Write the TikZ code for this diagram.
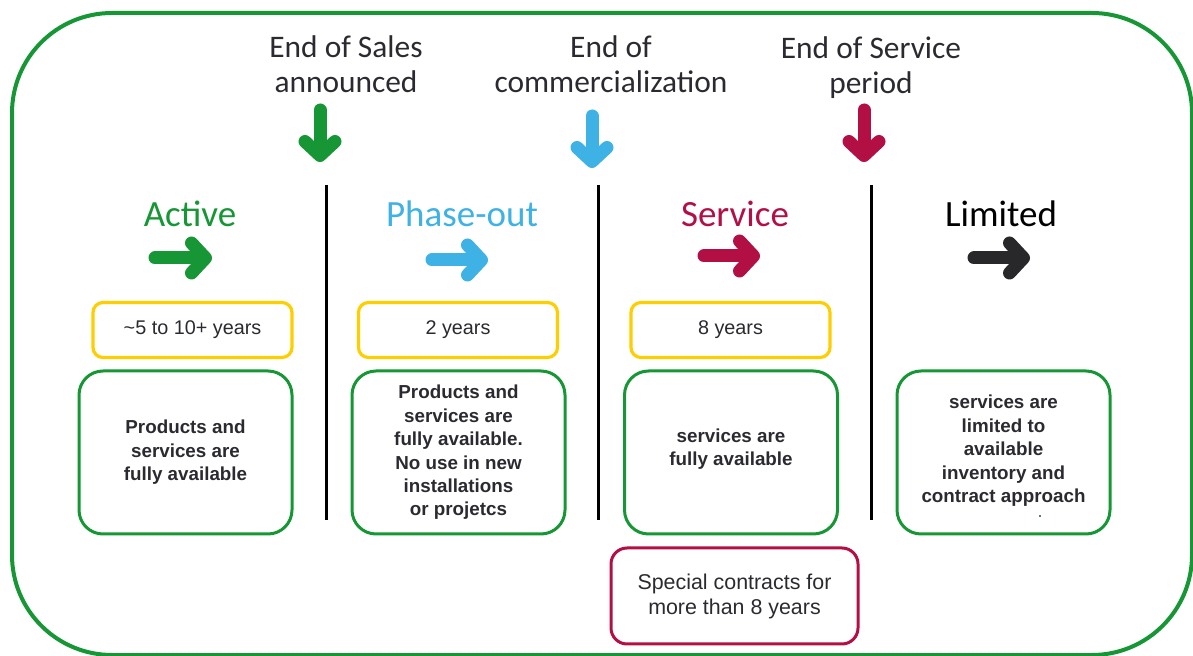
\documentclass[tikz,border=0pt]{standalone}
\usepackage{fontspec}
\setmainfont{Liberation Sans}
\newfontfamily\headfont{Carlito}
\usetikzlibrary{arrows.meta, positioning}
\definecolor{mygreen}{RGB}{22,150,52}
\definecolor{myblue}{RGB}{62,178,228}
\definecolor{myred}{RGB}{178,16,68}
\definecolor{mydark}{RGB}{40,40,42}
\definecolor{myyellow}{RGB}{255,206,0}
\definecolor{mytext}{RGB}{42,42,48}
\tikzset{
  eventlabel/.style={align=center, text=mytext, inner sep=0pt,
    font=\headfont\fontsize{15.7}{17.5}\selectfont},
  phasetitle/.style={inner sep=0pt, font=\headfont\fontsize{18.5}{21}\selectfont},
  bigarrow/.style={line width=6.5pt, line cap=round,
    -{Straight Barb[length=7pt, width=15pt, round]}},
  yearbox/.style={rectangle, draw=myyellow, line width=1.6pt,
    rounded corners=5pt, minimum width=99.5pt, minimum height=27.5pt,
    font=\fontsize{9.9}{12}\selectfont, text=mytext},
  infobox/.style={rectangle, draw=mygreen, line width=1.5pt,
    rounded corners=12pt, minimum width=106.5pt, minimum height=81.5pt,
    align=center, text=mytext, font=\bfseries\fontsize{9.4}{11.7}\selectfont},
  contractbox/.style={rectangle, draw=myred, line width=1.5pt,
    rounded corners=8pt, minimum width=123.5pt, minimum height=48pt,
    align=center, text=mytext, font=\fontsize{10.7}{12.5}\selectfont},
  divider/.style={line width=1.5pt, color=black}
}

\begin{document}
\begin{tikzpicture}[x=0.5pt, y=-0.5pt]
  \useasboundingbox (0,0) rectangle (1193,656);
  % outer frame
  \draw[mygreen, line width=2pt, rounded corners=50pt] (12,13) rectangle (1192,655);

  % -- milestones ------------------------------------------------------
  \node[eventlabel] (eos)  at (346,64)   {End of Sales\\announced};
  \node[eventlabel] (eoc)  at (611,64)   {End of\\commercialization};
  \node[eventlabel] (eosv) at (871,67.5) {End of Service\\period};
  \draw[bigarrow, mygreen] (320,110) -- (320,162);
  \draw[bigarrow, myblue]  (592,116) -- (592,168);
  \draw[bigarrow, myred]   (864,110) -- (864,162);

  % dividers between phases
  \draw[divider] (326,185) -- (326,520);
  \draw[divider] (598,185) -- (598,520);
  \draw[divider] (871,185) -- (871,520);

  % -- phase titles and arrows -----------------------------------------
  \node[phasetitle, text=mygreen]  (active)  at (190,214)  {Active};
  \node[phasetitle, text=myblue]   (phout)   at (462,214)  {Phase-out};
  \node[phasetitle, text=myred]    (service) at (735,214)  {Service};
  \node[phasetitle, text=black]    (limited) at (1001,214) {Limited};
  \draw[bigarrow, mygreen] (155,258) -- (212,258);
  \draw[bigarrow, myblue]  (432,260) -- (488,260);
  \draw[bigarrow, myred]   (704,256) -- (760,256);
  \draw[bigarrow, mydark]  (974,258) -- (1030,258);

  % -- durations -------------------------------------------------------
  \node[yearbox] (yactive)  at (192.5,330) {\textasciitilde5 to 10+ years};
  \node[yearbox] (yphout)   at (458,330)   {2 years};
  \node[yearbox] (yservice) at (730.5,330) {8 years};

  % -- availability ----------------------------------------------------
  \node[infobox] (iactive)  at (185.5,452.5)
    {Products and\\services are\\fully available};
  \node[infobox] (iphout)   at (458.5,452.5)
    {Products and\\services are\\fully available.\\No use in new\\installations\\or projetcs};
  \node[infobox] (iservice) at (731,452.5)
    {services are\\fully available\\[-6.5pt]};
  \node[infobox] (ilimited) at (1003.5,452.5)
    {services are\\limited to\\available\\inventory and\\contract approach\\[-8pt]};
  \node[font=\fontsize{9}{9}\selectfont, text=mytext!60!myblue, inner sep=0pt]
    (limdot) at (1040,517) {.};

  % extended support
  \node[contractbox] (special) at (734.5,596)
    {Special contracts for\\more than 8 years};
\end{tikzpicture}
\end{document}
